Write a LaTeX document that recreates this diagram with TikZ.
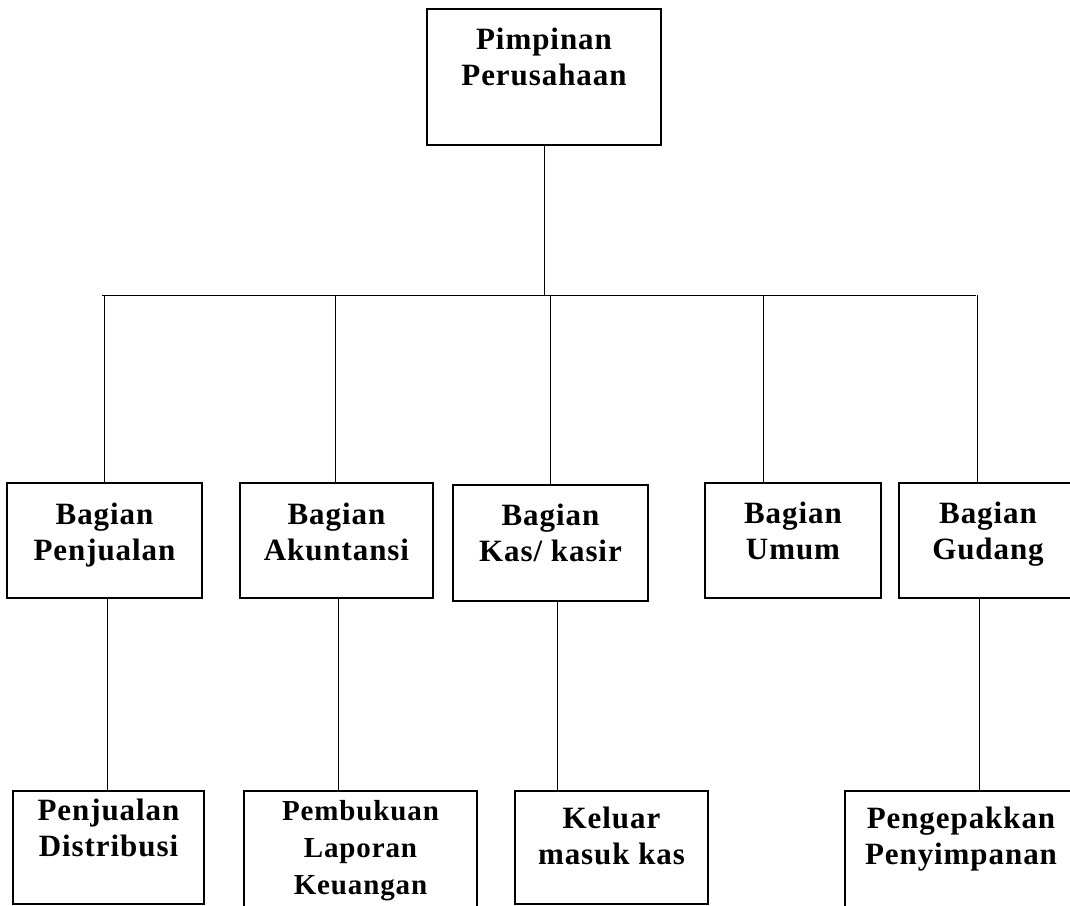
\documentclass[tikz,border=0pt]{standalone}
\usepackage{fontspec}
\setmainfont{Liberation Serif}[LetterSpace=3]
\usetikzlibrary{positioning}
\tikzset{box/.style={draw,line width=1.3pt,inner sep=0pt},
  lbl/.style={align=center,inner sep=0pt,anchor=north,font=\bfseries\fontsize{31}{36}\selectfont},
  lblsmall/.style={lbl,font=\bfseries\fontsize{29}{37}\selectfont},
  link/.style={line width=1pt}}

\begin{document}
\begin{tikzpicture}[x=1pt,y=-1pt]
\useasboundingbox (0,0) rectangle (1070,905);
\clip (0,0) rectangle (1070,905);
% top
\node[box,minimum width=234pt,minimum height=136pt,label={[lbl,yshift=-19pt]north:Pimpinan\\Perusahaan}] (pimpinan) at (544,77) {};
% bagian
\node[box,minimum width=195pt,minimum height=115pt,label={[lbl,yshift=-20pt]north:Bagian\\Penjualan}] (jual) at (104.5,540.5) {};
\node[box,minimum width=193pt,minimum height=115pt,label={[lbl,yshift=-20pt]north:Bagian\\Akuntansi}] (akun) at (336.5,540.5) {};
\node[box,minimum width=195pt,minimum height=116pt,label={[lbl,yshift=-19pt]north:Bagian\\Kas/ kasir}] (kas) at (550.5,543) {};
\node[box,minimum width=176pt,minimum height=115pt,label={[lbl,yshift=-19pt]north:Bagian\\Umum}] (umum) at (793,540.5) {};
\node[box,minimum width=178pt,minimum height=115pt,label={[lbl,yshift=-19pt]north:Bagian\\Gudang}] (gudang) at (988,540.5) {};
% sub bagian
\node[box,minimum width=191pt,minimum height=113pt,label={[lbl,yshift=-8pt]north:Penjualan\\Distribusi}] (distribusi) at (108.5,847.5) {};
\node[box,minimum width=233pt,minimum height=150pt,label={[lblsmall,yshift=-10pt]north:Pembukuan\\Laporan\\Keuangan}] (laporan) at (360.5,866) {};
\node[box,minimum width=193pt,minimum height=113pt,label={[lbl,yshift=-16pt]north:Keluar\\masuk kas}] (keluarmasuk) at (611.5,847.5) {};
\node[box,minimum width=232pt,minimum height=150pt,label={[lbl,yshift=-16pt]north:Pengepakkan\\Penyimpanan}] (pengepakan) at (961,866) {};
% lines
\coordinate (busL) at (102,295);
\coordinate (busR) at (976,295);
\draw[link] (pimpinan.south) -- (pimpinan.south |- busL);
\draw[link] (busL) -- (busR);
\foreach \n/\x in {jual/104,akun/335,kas/550,umum/763,gudang/977}{
  \coordinate (d) at (\x,295);
  \draw[link] (d) -- (d |- \n.north);
}
\foreach \a/\b/\x in {jual/distribusi/107,akun/laporan/338,kas/keluarmasuk/557,gudang/pengepakan/979}{
  \coordinate (c) at (\x,0);
  \draw[link] (c |- \a.south) -- (c |- \b.north);
}
\end{tikzpicture}
\end{document}
